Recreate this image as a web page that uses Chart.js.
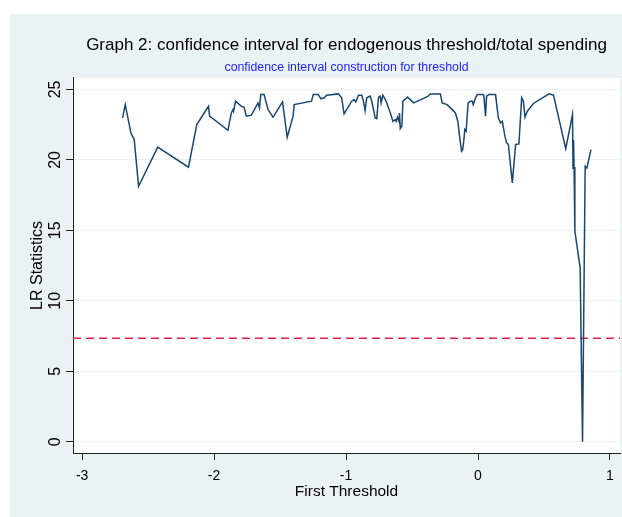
<!DOCTYPE html>
<html>
<head>
<meta charset="utf-8">
<script src="https://cdn.jsdelivr.net/npm/chart.js@4.4.1/dist/chart.umd.min.js"></script>
<style>
  html, body { margin: 0; padding: 0; background: #ffffff; }
  #wrap { width: 622px; height: 517px; }
</style>
</head>
<body>
<div id="wrap"><canvas id="c" width="622" height="517"></canvas></div>
<script>
// ---- data ----
const thresholds = [
  -2.693, -2.673, -2.630, -2.605, -2.572, -2.427, -2.194, -2.131, -2.042, -2.034,
  -1.895, -1.869, -1.857, -1.852, -1.837, -1.793, -1.773, -1.755, -1.717, -1.667,
  -1.656, -1.646, -1.621, -1.591, -1.553, -1.481, -1.446, -1.401, -1.393, -1.261,
  -1.249, -1.211, -1.190, -1.165, -1.147, -1.058, -1.033, -1.015, -0.957, -0.939,
  -0.926, -0.906, -0.881, -0.868, -0.856, -0.843, -0.817, -0.805, -0.779, -0.767,
  -0.754, -0.741, -0.734, -0.721, -0.696, -0.660, -0.645, -0.627, -0.620, -0.610,
  -0.599, -0.595, -0.589, -0.577, -0.569, -0.534, -0.488, -0.380, -0.361, -0.285,
  -0.272, -0.234, -0.209, -0.171, -0.153, -0.138, -0.125, -0.116, -0.108, -0.100,
  -0.090, -0.075, -0.057, -0.044, -0.036, -0.024, -0.006, 0.032, 0.044, 0.057,
  0.065, 0.082, 0.133, 0.154, 0.171, 0.184, 0.204, 0.217, 0.230, 0.260,
  0.285, 0.310, 0.331, 0.344, 0.356, 0.374, 0.420, 0.539, 0.572, 0.665,
  0.716, 0.720, 0.724, 0.728, 0.734, 0.774, 0.792, 0.812, 0.825, 0.856
];
const lrStats = [
  22.98, 23.92, 21.90, 21.44, 18.13, 20.90, 19.48, 22.50, 23.80, 23.10,
  22.10, 23.33, 23.57, 23.45, 24.16, 23.80, 23.74, 23.10, 23.17, 24.04,
  23.69, 24.63, 24.63, 23.57, 23.03, 24.11, 21.60, 23.10, 23.92, 24.16,
  24.63, 24.63, 24.33, 24.40, 24.59, 24.68, 24.40, 23.26, 24.16, 24.28,
  24.11, 24.59, 24.59, 24.16, 23.50, 24.40, 24.52, 24.16, 22.98, 22.93,
  24.45, 24.52, 24.04, 24.59, 24.16, 23.21, 22.74, 22.86, 22.74, 23.03,
  22.74, 23.33, 22.22, 22.39, 24.16, 24.45, 24.04, 24.50, 24.68, 24.68,
  24.04, 23.92, 23.69, 23.33, 22.74, 21.56, 20.62, 20.73, 21.33, 22.15,
  22.03, 24.04, 24.16, 24.16, 23.92, 24.28, 24.63, 24.63, 24.59, 23.10,
  24.52, 24.63, 24.63, 22.98, 22.62, 22.74, 21.68, 21.20, 21.09, 18.37,
  21.09, 21.13, 24.40, 24.16, 23.03, 23.45, 24.00, 24.68, 24.59, 20.80,
  23.21, 19.40, 21.40, 19.50, 14.94, 12.34, 0.00, 19.55, 19.43, 20.73
];
const criticalValue = 7.35;
const xTickValues = [-3, -2, -1, 0, 1];
const yTickValues = [0, 5, 10, 15, 20, 25];
const titleText = "Graph 2: confidence interval for endogenous threshold/total spending";
const subtitleText = "confidence interval construction for threshold";
const xTitle = "First Threshold";
const yTitle = "LR Statistics";

// axis extents (Stata-style margins around the ticks)
const X_MIN = -3.069, X_MAX = 1.076;
const Y_MIN = -0.79, Y_MAX = 25.81;

const BG = '#eaf2f3';
const FONT = '"Liberation Sans", Arial, Helvetica, sans-serif';

const bgPlugin = {
  id: 'bg',
  beforeDraw(chart) {
    const { ctx, chartArea: a } = chart;
    ctx.save();
    ctx.fillStyle = '#ffffff';
    ctx.fillRect(0, 0, chart.width, chart.height);
    ctx.fillStyle = BG;
    ctx.fillRect(10, 14, chart.width - 10, chart.height - 14);
    ctx.fillStyle = '#ffffff';
    ctx.fillRect(a.left, a.top, a.right - a.left, a.bottom - a.top);
    ctx.restore();
  }
};

const lineData = thresholds.map((x, i) => ({ x: x, y: lrStats[i] }));
const critData = [{ x: X_MIN, y: criticalValue }, { x: X_MAX, y: criticalValue }];

new Chart(document.getElementById('c'), {
  type: 'line',
  data: {
    datasets: [
      {
        data: critData,
        borderColor: '#e0204f',
        borderWidth: 1.4,
        borderDash: [8, 5],
        pointRadius: 0,
        tension: 0,
        order: 2
      },
      {
        data: lineData,
        borderColor: '#1a476f',
        borderWidth: 1.5,
        pointRadius: 0,
        tension: 0,
        order: 1
      }
    ]
  },
  options: {
    responsive: false,
    animation: false,
    devicePixelRatio: 1,
    layout: { padding: { left: 10, right: 2, top: 0, bottom: 0 } },
    plugins: {
      legend: { display: false },
      tooltip: { enabled: false },
      title: {
        display: true,
        text: titleText,
        color: '#000000',
        fullSize: false,
        font: { family: FONT, size: 17, weight: 'normal' },
        padding: { top: 35, bottom: 0 }
      },
      subtitle: {
        display: true,
        text: subtitleText,
        color: '#2424ff',
        fullSize: false,
        font: { family: FONT, size: 12.3, weight: 'normal' },
        padding: { top: 5.2, bottom: 2.6 }
      }
    },
    scales: {
      x: {
        type: 'linear',
        min: X_MIN,
        max: X_MAX,
        afterBuildTicks(scale) { scale.ticks = xTickValues.map(v => ({ value: v })); },
        afterFit(scale) { scale.height = 64; },
        grid: {
          drawOnChartArea: false,
          drawTicks: true,
          tickLength: 7,
          tickColor: '#222222',
          tickWidth: 1
        },
        border: { display: true, color: '#222222', width: 1 },
        ticks: {
          color: '#000000',
          font: { family: FONT, size: 14 },
          padding: 8,
          maxRotation: 0,
          autoSkip: false,
          callback: v => String(v)
        },
        title: {
          display: true,
          text: xTitle,
          color: '#000000',
          font: { family: FONT, size: 15.5 },
          padding: { top: 0, bottom: 15.7 }
        }
      },
      y: {
        type: 'linear',
        min: Y_MIN,
        max: Y_MAX,
        afterBuildTicks(scale) { scale.ticks = yTickValues.map(v => ({ value: v })); },
        afterFit(scale) { scale.width = 63; },
        grid: {
          color: BG,
          lineWidth: 1,
          drawTicks: true,
          tickLength: 7,
          tickColor: '#222222',
          tickWidth: 1
        },
        border: { display: true, color: '#222222', width: 1 },
        ticks: {
          color: '#000000',
          font: { family: FONT, size: 16 },
          minRotation: 90,
          maxRotation: 90,
          crossAlign: 'center',
          padding: 2,
          autoSkip: false,
          callback: v => String(v)
        },
        title: {
          display: true,
          text: yTitle,
          color: '#000000',
          font: { family: FONT, size: 16 },
          padding: { top: 18.4, bottom: 0 }
        }
      }
    }
  },
  plugins: [bgPlugin]
});
</script>
</body>
</html>
